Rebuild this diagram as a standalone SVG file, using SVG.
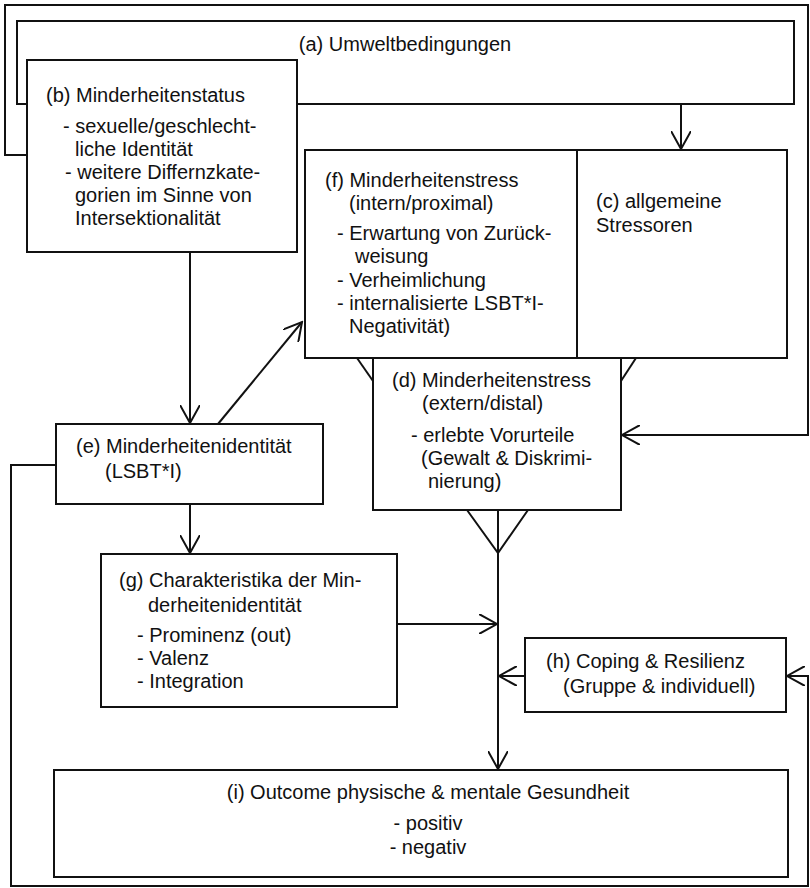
<svg xmlns="http://www.w3.org/2000/svg" width="810" height="888" viewBox="0 0 810 888">
<style>
.box{fill:#fff;stroke:#111;stroke-width:2}
.ln{fill:none;stroke:#111;stroke-width:2}
text{font-family:"Liberation Sans",Arial,sans-serif;font-size:20px;fill:#111}
.c{text-anchor:middle}
</style>
<defs>
<marker id="arr" viewBox="0 0 20 20" markerUnits="userSpaceOnUse" markerWidth="20" markerHeight="20" refX="18" refY="10" orient="auto">
<path d="M0,0 L18,10 L0,20" fill="none" stroke="#111" stroke-width="2"/>
</marker>
</defs>
<rect width="810" height="888" fill="#fff"/>
<g id="connectors">
<path class="ln" d="M27,155 H5 V5 H808 V435 H622" marker-end="url(#arr)"/>
<path class="ln" d="M681,104 V149" marker-end="url(#arr)"/>
<path class="ln" d="M190,252 V423" marker-end="url(#arr)"/>
<path class="ln" d="M218,424 L302,322" marker-end="url(#arr)"/>
<path class="ln" d="M190,504 V553" marker-end="url(#arr)"/>
<path class="ln" d="M357,358 L373,381"/>
<path class="ln" d="M636,358 L621,381"/>
<path class="ln" d="M467,510 L498,553 L528,510"/>
<path class="ln" d="M498,510 V769" marker-end="url(#arr)"/>
<path class="ln" d="M397,624 H497" marker-end="url(#arr)"/>
<path class="ln" d="M525,676 H499" marker-end="url(#arr)"/>
<path class="ln" d="M56,465 H11 V886 H808 V676 H787" marker-end="url(#arr)"/>
</g>
<g id="node-a">
<rect class="box" x="17" y="21" width="777" height="83"/>
<text class="c" x="405" y="51">(a) Umweltbedingungen</text>
</g>
<g id="node-b">
<rect class="box" x="27" y="60" width="270" height="192"/>
<text x="46" y="102">(b) Minderheitenstatus</text>
<text x="63" y="133">- sexuelle/geschlecht-</text>
<text x="75" y="156">liche Identität</text>
<text x="65" y="179">- weitere Differnzkate-</text>
<text x="75" y="202">gorien im Sinne von</text>
<text x="75" y="225">Intersektionalität</text>
</g>
<g id="node-f">
<rect class="box" x="305" y="150" width="272" height="208"/>
<text x="325" y="187">(f) Minderheitenstress</text>
<text x="349" y="210">(intern/proximal)</text>
<text x="337" y="240">- Erwartung von Zurück-</text>
<text x="355" y="263">weisung</text>
<text x="337" y="287">- Verheimlichung</text>
<text x="337" y="310">- internalisierte LSBT*I-</text>
<text x="349" y="333">Negativität)</text>
</g>
<g id="node-c">
<rect class="box" x="577" y="150" width="210" height="208"/>
<text x="596" y="208">(c) allgemeine</text>
<text x="596" y="232">Stressoren</text>
</g>
<g id="node-d">
<rect class="box" x="373" y="358" width="248" height="152"/>
<text x="392" y="387">(d) Minderheitenstress</text>
<text x="422" y="410">(extern/distal)</text>
<text x="411" y="442">- erlebte Vorurteile</text>
<text x="421" y="465">(Gewalt &amp; Diskrimi-</text>
<text x="428" y="488">nierung)</text>
</g>
<g id="node-e">
<rect class="box" x="56" y="424" width="267" height="80"/>
<text x="76" y="453">(e) Minderheitenidentität</text>
<text x="105" y="478">(LSBT*I)</text>
</g>
<g id="node-g">
<rect class="box" x="101" y="554" width="296" height="153"/>
<text x="119" y="587">(g) Charakteristika der Min-</text>
<text x="148" y="612">derheitenidentität</text>
<text x="137" y="642">- Prominenz (out)</text>
<text x="137" y="665">- Valenz</text>
<text x="137" y="688">- Integration</text>
</g>
<g id="node-h">
<rect class="box" x="525" y="638" width="261" height="74"/>
<text x="546" y="668">(h) Coping &amp; Resilienz</text>
<text x="563" y="693">(Gruppe &amp; individuell)</text>
</g>
<g id="node-i">
<rect class="box" x="54" y="770" width="734" height="107"/>
<text class="c" x="428" y="799">(i) Outcome physische &amp; mentale Gesundheit</text>
<text class="c" x="428" y="830">- positiv</text>
<text class="c" x="428" y="854">- negativ</text>
</g>
</svg>
